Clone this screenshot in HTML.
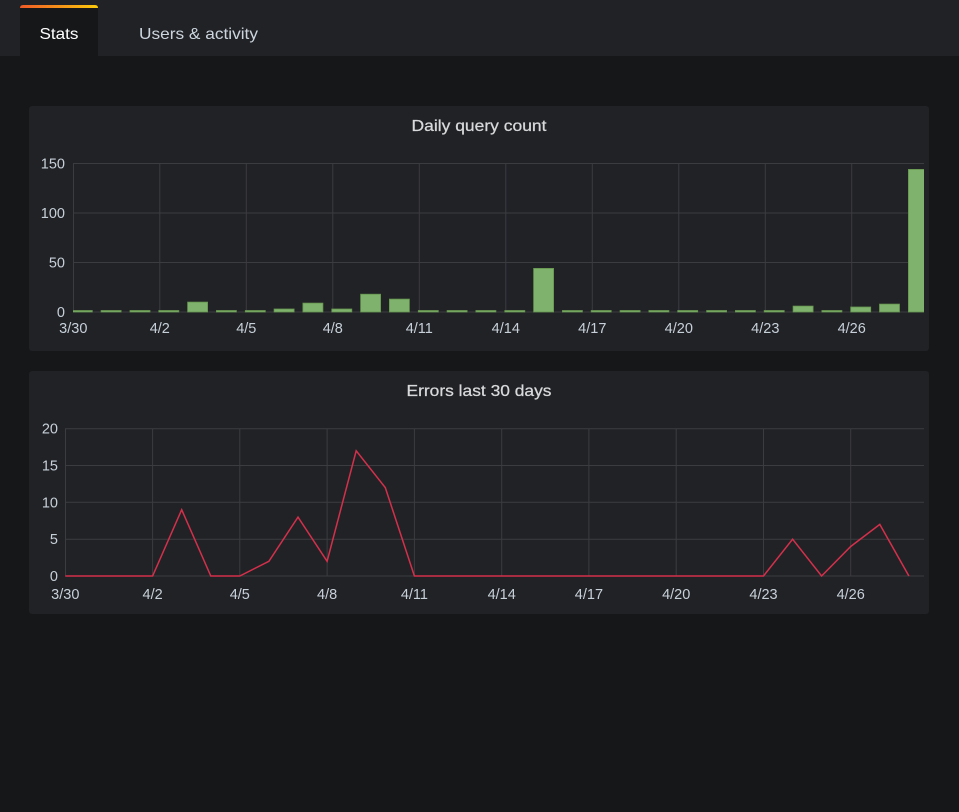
<!DOCTYPE html>
<html>
<head>
<meta charset="utf-8">
<style>
  html,body{margin:0;padding:0;background:#161719;}
  svg{display:block;}
  text{font-family:"Liberation Sans",sans-serif;}
</style>
</head>
<body>
<svg width="959" height="812" viewBox="0 0 959 812" xmlns="http://www.w3.org/2000/svg">
  <defs>
    <linearGradient id="tabg" x1="0" y1="0" x2="1" y2="0">
      <stop offset="0" stop-color="#f05a28"/>
      <stop offset="1" stop-color="#fbca0a"/>
    </linearGradient>
    <clipPath id="clip1"><rect x="73" y="150" width="851" height="170"/></clipPath>
  </defs>
  <rect x="0" y="0" width="959" height="812" fill="#161719"/>
  <!-- header -->
  <rect x="0" y="0" width="959" height="56" fill="#212226"/>
  <path d="M20,8 Q20,5 23,5 L95,5 Q98,5 98,8 L98,56 L20,56 Z" fill="#161719"/>
  <path d="M20,8 Q20,5 23,5 L95,5 Q98,5 98,8 Z" fill="url(#tabg)"/>
  <text x="59" y="39" font-size="16" fill="#ffffff" text-anchor="middle" textLength="39" lengthAdjust="spacingAndGlyphs">Stats</text>
  <text x="139" y="39" font-size="16" fill="#ccd5de" textLength="119" lengthAdjust="spacingAndGlyphs">Users &amp; activity</text>

  <!-- Panel 1 -->
  <rect x="29" y="106" width="900" height="245" rx="3" fill="#212226"/>
  <text x="479" y="131" font-size="16" fill="#d8d9da" stroke="#d8d9da" stroke-width="0.25" text-anchor="middle" textLength="135" lengthAdjust="spacingAndGlyphs">Daily query count</text>
  <g stroke="#3b3c40" stroke-width="1">
    <line x1="73" y1="163.5" x2="924" y2="163.5"/>
    <line x1="73" y1="213" x2="924" y2="213"/>
    <line x1="73" y1="262.5" x2="924" y2="262.5"/>
    <line x1="73" y1="312" x2="924" y2="312"/>
    <line x1="73.5" y1="163.5" x2="73.5" y2="312"/>
    <line x1="159.8" y1="163.5" x2="159.8" y2="312"/>
    <line x1="246.3" y1="163.5" x2="246.3" y2="312"/>
    <line x1="332.8" y1="163.5" x2="332.8" y2="312"/>
    <line x1="419.3" y1="163.5" x2="419.3" y2="312"/>
    <line x1="505.8" y1="163.5" x2="505.8" y2="312"/>
    <line x1="592.3" y1="163.5" x2="592.3" y2="312"/>
    <line x1="678.8" y1="163.5" x2="678.8" y2="312"/>
    <line x1="765.3" y1="163.5" x2="765.3" y2="312"/>
    <line x1="851.7" y1="163.5" x2="851.7" y2="312"/>
  </g>
  <g fill="#c7d0d9" font-size="14.5" text-anchor="end">
    <text x="65" y="168.5">150</text>
    <text x="65" y="218">100</text>
    <text x="65" y="267.5">50</text>
    <text x="65" y="317">0</text>
  </g>
  <g fill="#c7d0d9" font-size="14.5" text-anchor="middle">
    <text x="73.3" y="333">3/30</text>
    <text x="159.8" y="333">4/2</text>
    <text x="246.3" y="333">4/5</text>
    <text x="332.8" y="333">4/8</text>
    <text x="419.3" y="333">4/11</text>
    <text x="505.8" y="333">4/14</text>
    <text x="592.3" y="333">4/17</text>
    <text x="678.8" y="333">4/20</text>
    <text x="765.3" y="333">4/23</text>
    <text x="851.7" y="333">4/26</text>
  </g>
  <g fill="#7eb26d" stroke="#66954f" stroke-width="0.8" clip-path="url(#clip1)">
    <rect x="72.3" y="310.5" width="20" height="1.5"/>
    <rect x="101.1" y="310.5" width="20" height="1.5"/>
    <rect x="130" y="310.5" width="20" height="1.5"/>
    <rect x="158.8" y="310.5" width="20" height="1.5"/>
    <rect x="187.6" y="302.1" width="20" height="9.9"/>
    <rect x="216.4" y="310.5" width="20" height="1.5"/>
    <rect x="245.3" y="310.5" width="20" height="1.5"/>
    <rect x="274.1" y="309" width="20" height="3"/>
    <rect x="302.9" y="303.1" width="20" height="8.9"/>
    <rect x="331.8" y="309" width="20" height="3"/>
    <rect x="360.6" y="294.2" width="20" height="17.8"/>
    <rect x="389.4" y="299.1" width="20" height="12.9"/>
    <rect x="418.3" y="310.5" width="20" height="1.5"/>
    <rect x="447.1" y="310.5" width="20" height="1.5"/>
    <rect x="475.9" y="310.5" width="20" height="1.5"/>
    <rect x="504.8" y="310.5" width="20" height="1.5"/>
    <rect x="533.6" y="268.4" width="20" height="43.6"/>
    <rect x="562.4" y="310.5" width="20" height="1.5"/>
    <rect x="591.2" y="310.5" width="20" height="1.5"/>
    <rect x="620.1" y="310.5" width="20" height="1.5"/>
    <rect x="648.9" y="310.5" width="20" height="1.5"/>
    <rect x="677.7" y="310.5" width="20" height="1.5"/>
    <rect x="706.6" y="310.5" width="20" height="1.5"/>
    <rect x="735.4" y="310.5" width="20" height="1.5"/>
    <rect x="764.2" y="310.5" width="20" height="1.5"/>
    <rect x="793.1" y="306.1" width="20" height="5.9"/>
    <rect x="821.9" y="310.5" width="20" height="1.5"/>
    <rect x="850.7" y="307" width="20" height="5"/>
    <rect x="879.5" y="304.1" width="20" height="7.9"/>
    <rect x="908.4" y="169.4" width="20" height="142.6"/>
  </g>

  <!-- Panel 2 -->
  <rect x="29" y="371" width="900" height="243" rx="3" fill="#212226"/>
  <text x="479" y="396" font-size="16" fill="#d8d9da" stroke="#d8d9da" stroke-width="0.25" text-anchor="middle" textLength="145" lengthAdjust="spacingAndGlyphs">Errors last 30 days</text>
  <g stroke="#3b3c40" stroke-width="1">
    <line x1="65" y1="428.7" x2="924" y2="428.7"/>
    <line x1="65" y1="465.5" x2="924" y2="465.5"/>
    <line x1="65" y1="502.3" x2="924" y2="502.3"/>
    <line x1="65" y1="539.2" x2="924" y2="539.2"/>
    <line x1="65" y1="576" x2="924" y2="576"/>
    <line x1="65.5" y1="428.7" x2="65.5" y2="576"/>
    <line x1="152.6" y1="428.7" x2="152.6" y2="576"/>
    <line x1="239.8" y1="428.7" x2="239.8" y2="576"/>
    <line x1="327.1" y1="428.7" x2="327.1" y2="576"/>
    <line x1="414.4" y1="428.7" x2="414.4" y2="576"/>
    <line x1="501.7" y1="428.7" x2="501.7" y2="576"/>
    <line x1="588.9" y1="428.7" x2="588.9" y2="576"/>
    <line x1="676.2" y1="428.7" x2="676.2" y2="576"/>
    <line x1="763.5" y1="428.7" x2="763.5" y2="576"/>
    <line x1="850.7" y1="428.7" x2="850.7" y2="576"/>
  </g>
  <g fill="#c7d0d9" font-size="14.5" text-anchor="end">
    <text x="58" y="433.7">20</text>
    <text x="58" y="470.5">15</text>
    <text x="58" y="507.3">10</text>
    <text x="58" y="544.2">5</text>
    <text x="58" y="581">0</text>
  </g>
  <g fill="#c7d0d9" font-size="14.5" text-anchor="middle">
    <text x="65.3" y="599">3/30</text>
    <text x="152.6" y="599">4/2</text>
    <text x="239.8" y="599">4/5</text>
    <text x="327.1" y="599">4/8</text>
    <text x="414.4" y="599">4/11</text>
    <text x="501.7" y="599">4/14</text>
    <text x="588.9" y="599">4/17</text>
    <text x="676.2" y="599">4/20</text>
    <text x="763.5" y="599">4/23</text>
    <text x="850.7" y="599">4/26</text>
  </g>
  <polyline fill="none" stroke="#d4304b" stroke-width="1.5" stroke-linejoin="miter"
    points="65.3,576 152.6,576 181.7,509.7 210.8,576 239.8,576 268.9,561.3 298,517.1 327.1,561.3 356.2,450.8 385.3,487.6 414.4,576 763.5,576 792.6,539.2 821.6,576 850.7,546.5 879.8,524.4 908.9,576"/>
</svg>
</body>
</html>
